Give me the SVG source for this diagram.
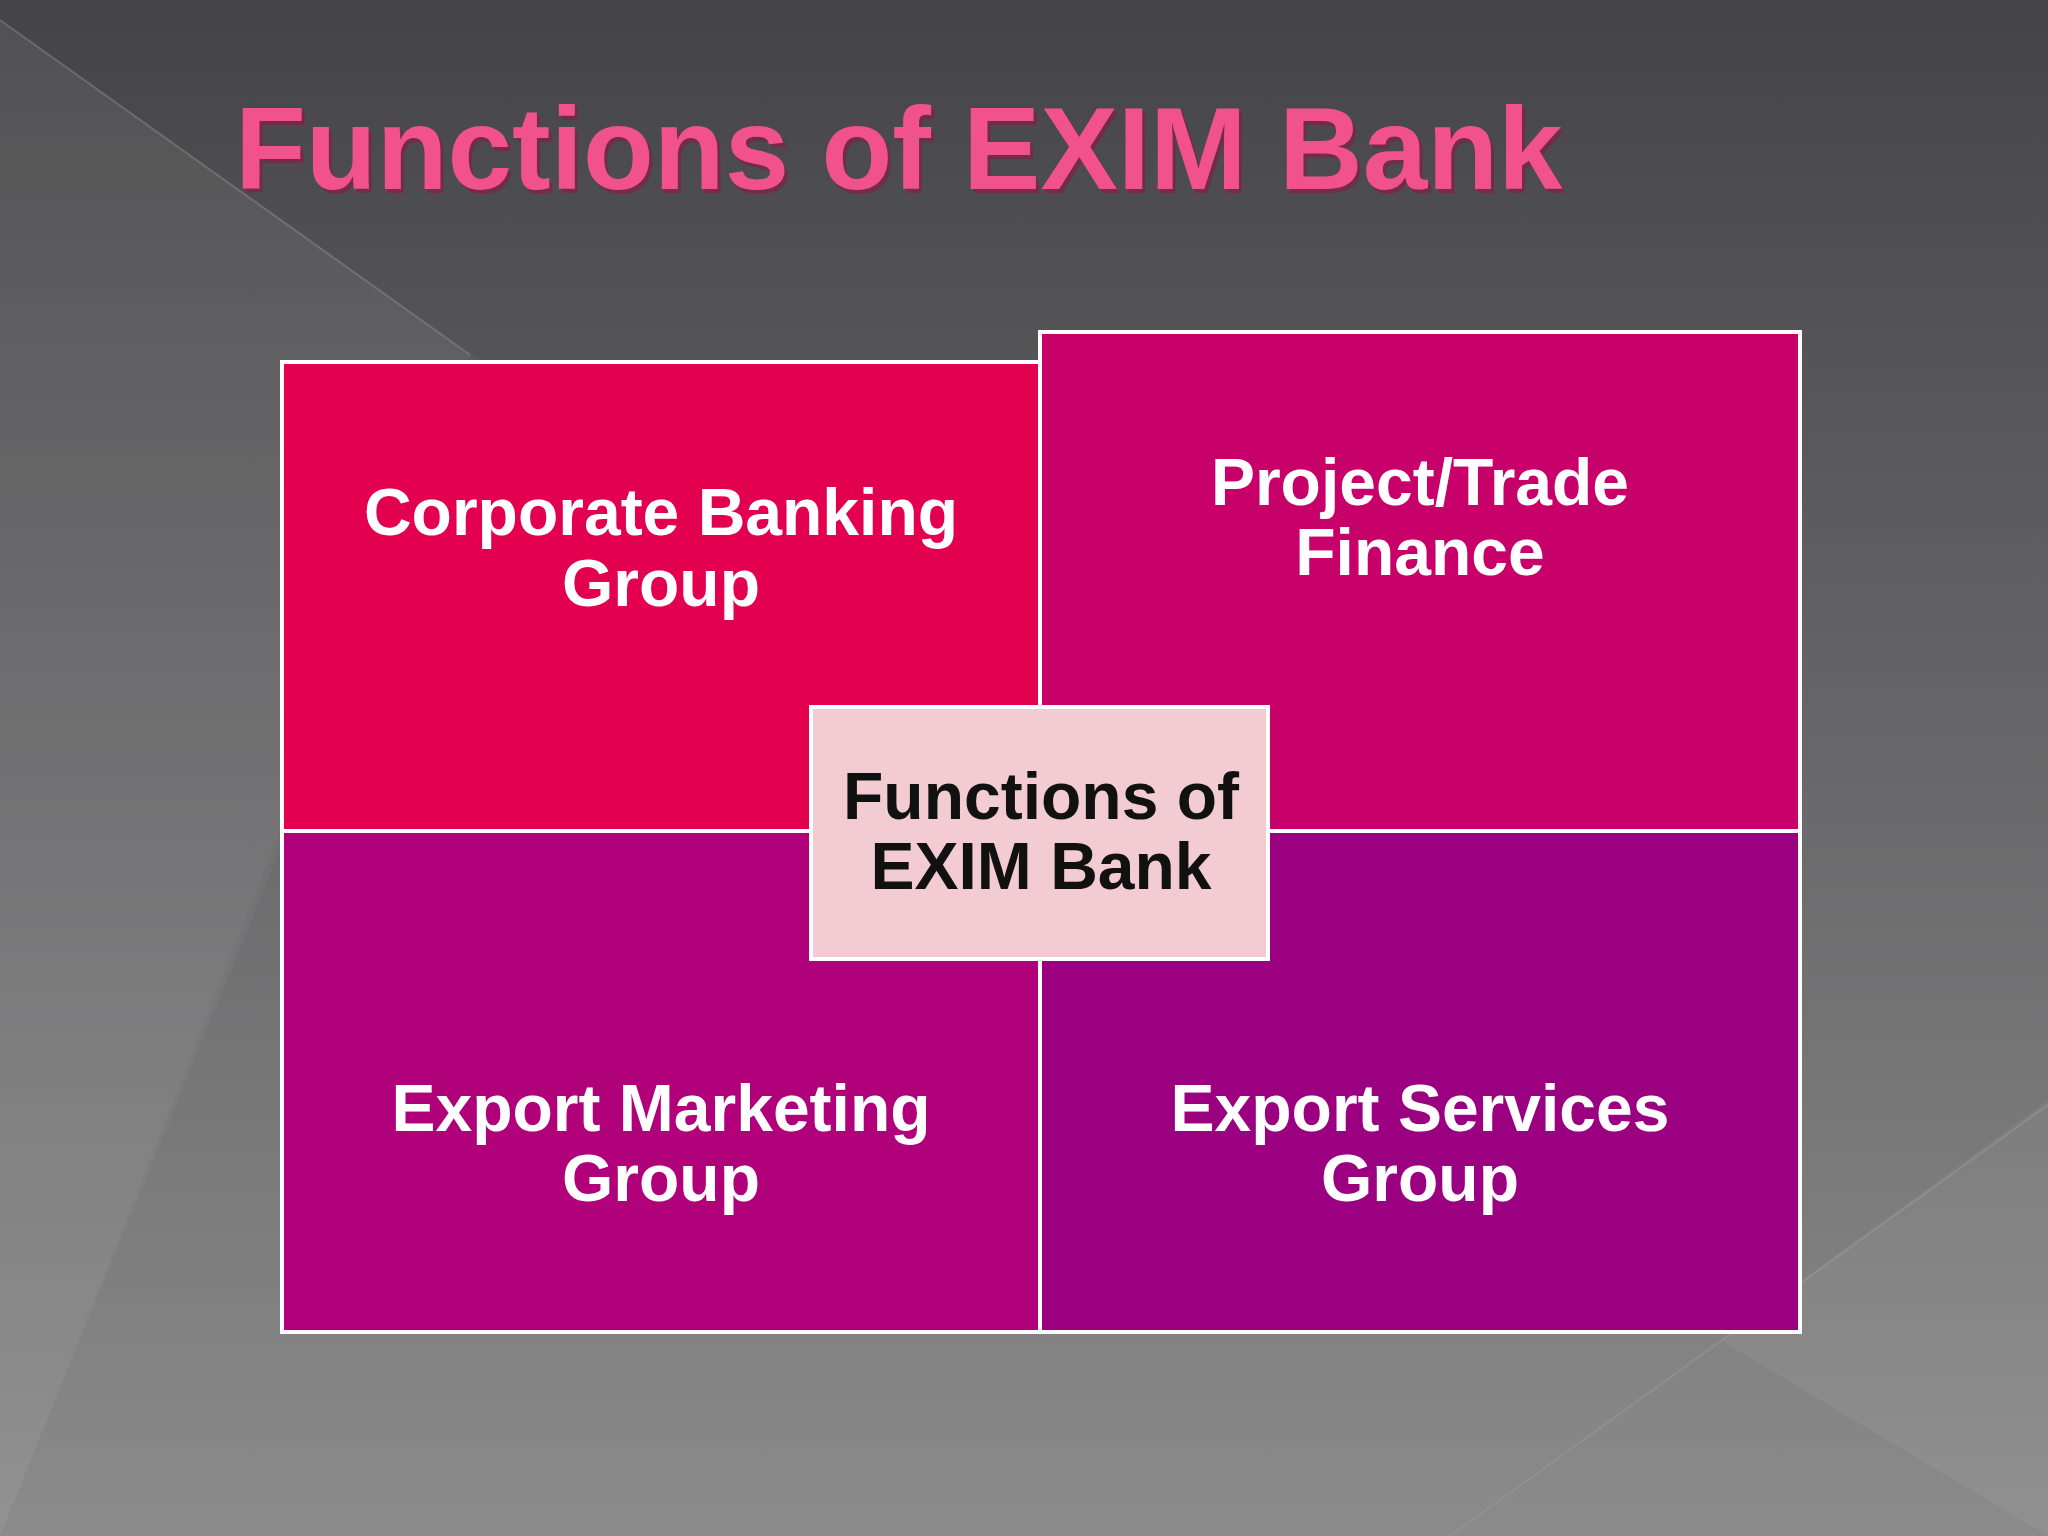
<svg xmlns="http://www.w3.org/2000/svg" width="2048" height="1536" viewBox="0 0 2048 1536">
<defs>
<linearGradient id="bg" x1="0" y1="0" x2="0" y2="1"><stop offset="0" stop-color="#444446"/><stop offset="1" stop-color="#8c8b8c"/></linearGradient>
<style>
.box{stroke:#fff;stroke-width:4}
.wt{font-family:"Liberation Sans",Arial,sans-serif;font-weight:bold;font-size:66px;fill:#fff;text-anchor:middle}
.bt{font-family:"Liberation Sans",Arial,sans-serif;font-weight:bold;font-size:66px;fill:#111;text-anchor:middle}
</style>
</defs>
<rect width="2048" height="1536" fill="url(#bg)"/>
<polygon points="0,0 0,1536 480,360 0,20" fill="#fff" opacity="0.04"/>
<polygon points="0,20 470,355 0,1536" fill="#fff" opacity="0.03"/>
<polygon points="2048,1100 1720,1340 2048,1536" fill="#fff" opacity="0.05"/>
<line x1="0" y1="20" x2="470" y2="355" stroke="#888" stroke-width="2" opacity="0.5"/>
<line x1="2048" y1="1105" x2="1450" y2="1536" stroke="#999" stroke-width="2" opacity="0.5"/>
<text x="235" y="189" font-family="Liberation Sans,Arial,sans-serif" font-weight="bold" font-size="116" fill="#8a1a40" opacity="0.6" transform="translate(3,4)">Functions of EXIM Bank</text>
<text x="235" y="189" font-family="Liberation Sans,Arial,sans-serif" font-weight="bold" font-size="116" fill="#F2528C">Functions of EXIM Bank</text>
<g id="corporate"><rect class="box" x="282" y="362" width="758" height="469" fill="#E2004F"/><text class="wt" x="661" y="535">Corporate Banking</text><text class="wt" x="661" y="606">Group</text></g>
<g id="project"><rect class="box" x="1040" y="332" width="760" height="499" fill="#C8006A"/><text class="wt" x="1420" y="505">Project/Trade</text><text class="wt" x="1420" y="575">Finance</text></g>
<g id="marketing"><rect class="box" x="282" y="831" width="758" height="501" fill="#B0007A"/><text class="wt" x="661" y="1131">Export Marketing</text><text class="wt" x="661" y="1201">Group</text></g>
<g id="services"><rect class="box" x="1040" y="831" width="760" height="501" fill="#9A0080"/><text class="wt" x="1420" y="1131">Export Services</text><text class="wt" x="1420" y="1201">Group</text></g>
<g id="center"><rect class="box" x="811" y="707" width="457" height="252" fill="#F2CCD2"/><text class="bt" x="1041" y="819">Functions of</text><text class="bt" x="1041" y="889">EXIM Bank</text></g>
<g id="connectors"/>
</svg>
